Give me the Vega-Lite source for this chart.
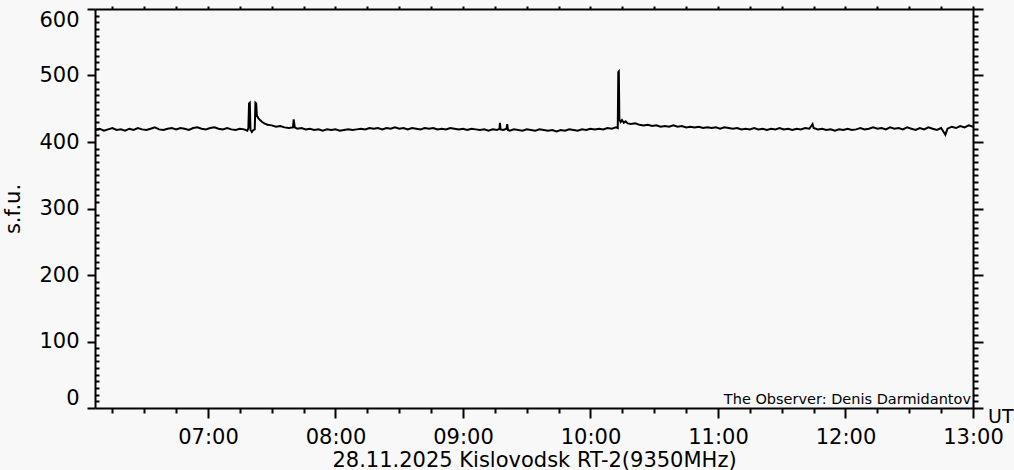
{
  "$schema": "https://vega.github.io/schema/vega-lite/v6.json",
  "width": 1014,
  "height": 470,
  "autosize": {"type": "fit", "contains": "padding"},
  "padding": {"left": 2, "top": 5, "right": 0, "bottom": 0},
  "background": "#f8f8f8",
  "view": {"stroke": null},
  "config": {
    "axis": {
      "domainColor": "#000000", "domainWidth": 2, "tickColor": "#000000", "tickWidth": 2,
      "labelColor": "#000000", "labelFont": "DejaVu Sans", "labelFontSize": 21,
      "titleColor": "#000000", "titleFont": "DejaVu Sans", "titleFontSize": 21, "titleFontWeight": "normal",
      "grid": false, "labelOverlap": false
    }
  },
  "data": {"values": [
    {"m":366.83,"v":418},{"m":369,"v":420},{"m":371,"v":417},{"m":373,"v":419},{"m":375,"v":421},{"m":377,"v":418},{"m":379,"v":419},{"m":381,"v":417},
    {"m":383,"v":420},{"m":385,"v":418},{"m":387,"v":421},{"m":389,"v":419},{"m":391,"v":418},{"m":393,"v":420},{"m":395,"v":422},{"m":397,"v":419},
    {"m":399,"v":418},{"m":401,"v":420},{"m":403,"v":421},{"m":405,"v":419},{"m":407,"v":421},{"m":409,"v":420},{"m":411,"v":418},{"m":413,"v":421},
    {"m":415,"v":422},{"m":417,"v":420},{"m":419,"v":419},{"m":421,"v":421},{"m":423,"v":422},{"m":425,"v":420},{"m":427,"v":419},{"m":429,"v":421},
    {"m":431,"v":419},{"m":433,"v":418},{"m":435,"v":420},{"m":437,"v":419},{"m":438.5,"v":417},{"m":439,"v":421},{"m":439.33,"v":458},{"m":439.67,"v":459},
    {"m":440,"v":418},{"m":440.67,"v":415},{"m":441.33,"v":418},{"m":442,"v":419},{"m":442.33,"v":459},{"m":442.67,"v":458},{"m":443,"v":440},{"m":443.67,"v":436},
    {"m":444.5,"v":433},{"m":445.5,"v":430},{"m":446.5,"v":428},{"m":448,"v":426},{"m":450,"v":425},{"m":452,"v":423},{"m":454,"v":424},{"m":456,"v":422},
    {"m":458,"v":421},{"m":460,"v":422},{"m":460.33,"v":434},{"m":460.83,"v":422},{"m":462,"v":420},{"m":464,"v":421},{"m":466,"v":419},{"m":468,"v":420},
    {"m":470,"v":418},{"m":472,"v":419},{"m":474,"v":417},{"m":476,"v":419},{"m":478,"v":418},{"m":480,"v":419},{"m":482,"v":417},{"m":484,"v":418},
    {"m":486,"v":419},{"m":488,"v":418},{"m":490,"v":419},{"m":492,"v":420},{"m":494,"v":419},{"m":496,"v":421},{"m":498,"v":420},{"m":500,"v":421},
    {"m":502,"v":419},{"m":504,"v":421},{"m":506,"v":420},{"m":508,"v":422},{"m":510,"v":420},{"m":512,"v":421},{"m":514,"v":419},{"m":516,"v":421},
    {"m":518,"v":420},{"m":520,"v":419},{"m":522,"v":421},{"m":524,"v":420},{"m":526,"v":421},{"m":528,"v":419},{"m":530,"v":420},{"m":532,"v":419},
    {"m":534,"v":421},{"m":536,"v":420},{"m":538,"v":419},{"m":540,"v":420},{"m":542,"v":418},{"m":544,"v":420},{"m":546,"v":419},{"m":548,"v":418},
    {"m":550,"v":419},{"m":552,"v":417},{"m":554,"v":419},{"m":556,"v":418},{"m":557.17,"v":420},{"m":557.4,"v":429},{"m":557.67,"v":419},{"m":559,"v":418},
    {"m":560.5,"v":420},{"m":560.8,"v":427},{"m":561.17,"v":418},{"m":562,"v":417},{"m":564,"v":419},{"m":566,"v":418},{"m":568,"v":417},{"m":570,"v":419},
    {"m":572,"v":418},{"m":574,"v":417},{"m":576,"v":419},{"m":578,"v":418},{"m":580,"v":417},{"m":582,"v":418},{"m":584,"v":416},{"m":586,"v":418},
    {"m":588,"v":417},{"m":590,"v":419},{"m":592,"v":418},{"m":594,"v":417},{"m":596,"v":419},{"m":598,"v":418},{"m":600,"v":420},{"m":602,"v":419},
    {"m":604,"v":420},{"m":606,"v":419},{"m":608,"v":421},{"m":610,"v":420},{"m":612,"v":422},{"m":612.83,"v":421},{"m":613.08,"v":505},{"m":613.33,"v":506},
    {"m":613.58,"v":434},{"m":614.17,"v":430},{"m":614.83,"v":433},{"m":615.67,"v":429},{"m":616.5,"v":431},{"m":617.5,"v":428},{"m":619,"v":427},{"m":621,"v":428},
    {"m":623,"v":426},{"m":625,"v":425},{"m":627,"v":426},{"m":629,"v":424},{"m":631,"v":425},{"m":633,"v":423},{"m":635,"v":424},{"m":637,"v":423},
    {"m":639,"v":425},{"m":641,"v":423},{"m":643,"v":424},{"m":645,"v":422},{"m":647,"v":423},{"m":649,"v":422},{"m":651,"v":423},{"m":653,"v":421},
    {"m":655,"v":422},{"m":657,"v":421},{"m":659,"v":422},{"m":661,"v":420},{"m":663,"v":422},{"m":665,"v":421},{"m":667,"v":420},{"m":669,"v":421},
    {"m":671,"v":419},{"m":673,"v":420},{"m":675,"v":419},{"m":677,"v":421},{"m":679,"v":419},{"m":681,"v":420},{"m":683,"v":418},{"m":685,"v":420},
    {"m":687,"v":419},{"m":689,"v":421},{"m":691,"v":419},{"m":693,"v":420},{"m":695,"v":418},{"m":697,"v":420},{"m":699,"v":419},{"m":701,"v":421},
    {"m":703,"v":420},{"m":704.5,"v":427},{"m":705,"v":421},{"m":707,"v":419},{"m":709,"v":420},{"m":711,"v":418},{"m":713,"v":419},{"m":715,"v":417},
    {"m":717,"v":419},{"m":719,"v":418},{"m":721,"v":420},{"m":723,"v":418},{"m":725,"v":419},{"m":727,"v":421},{"m":729,"v":419},{"m":731,"v":420},
    {"m":733,"v":422},{"m":735,"v":420},{"m":737,"v":421},{"m":739,"v":419},{"m":741,"v":422},{"m":743,"v":420},{"m":745,"v":421},{"m":747,"v":419},
    {"m":749,"v":422},{"m":751,"v":420},{"m":753,"v":418},{"m":755,"v":421},{"m":757,"v":419},{"m":759,"v":422},{"m":761,"v":420},{"m":763,"v":418},
    {"m":765,"v":421},{"m":767,"v":411},{"m":768,"v":420},{"m":770,"v":423},{"m":772,"v":421},{"m":774,"v":424},{"m":776,"v":422},{"m":778,"v":425},
    {"m":780,"v":423}
  ]},
  "resolve": {"axis": {"x": "independent", "y": "independent"}},
  "layer": [
    {
      "mark": {"type": "line", "color": "#000000", "strokeWidth": 2},
      "encoding": {
        "x": {
          "field": "m", "type": "quantitative",
          "scale": {"domain": [366.83, 780], "nice": false, "zero": false},
          "axis": {
            "orient": "bottom",
            "title": "28.11.2025 Kislovodsk RT-2(9350MHz)",
            "values": [375,390,405,420,435,450,465,480,495,510,525,540,555,570,585,600,615,630,645,660,675,690,705,720,735,750,765,780],
            "labelExpr": "datum.value % 60 === 0 ? ((datum.value < 600 ? '0' : '') + floor(datum.value / 60) + ':00') : ''",
            "labelFlush": false,
            "tickSize": {"condition": {"test": "datum.value % 60 === 0", "value": 10}, "value": 5},
            "labelPadding": 8,
            "titlePadding": 2
          }
        },
        "y": {
          "field": "v", "type": "quantitative",
          "scale": {"domain": [0, 600], "nice": false},
          "axis": {
            "orient": "left",
            "title": "s.f.u.",
            "values": [0,10,20,30,40,50,60,70,80,90,100,110,120,130,140,150,160,170,180,190,200,210,220,230,240,250,260,270,280,290,300,310,320,330,340,350,360,370,380,390,400,410,420,430,440,450,460,470,480,490,500,510,520,530,540,550,560,570,580,590,600],
            "labelExpr": "datum.value % 100 === 0 ? datum.label : ''",
            "labelFlush": true,
            "tickSize": {"condition": {"test": "datum.value % 100 === 0", "value": 8}, "value": -4},
            "labelPadding": 8,
            "titlePadding": 15
          }
        }
      }
    },
    {
      "data": {"values": [{"m": 780, "v": 0, "label": "The Observer: Denis Darmidantov"}]},
      "mark": {"type": "text", "align": "right", "baseline": "alphabetic", "dx": -2, "dy": -4, "font": "DejaVu Sans", "fontSize": 14.5, "color": "#000000"},
      "encoding": {
        "x": {
          "field": "m", "type": "quantitative",
          "axis": {
            "orient": "top", "title": null, "labels": false,
            "values": [375,390,405,420,435,450,465,480,495,510,525,540,555,570,585,600,615,630,645,660,675,690,705,720,735,750,765,780],
            "tickSize": 3
          }
        },
        "y": {
          "field": "v", "type": "quantitative",
          "axis": {
            "orient": "right", "title": null, "labels": false,
            "values": [0,10,20,30,40,50,60,70,80,90,100,110,120,130,140,150,160,170,180,190,200,210,220,230,240,250,260,270,280,290,300,310,320,330,340,350,360,370,380,390,400,410,420,430,440,450,460,470,480,490,500,510,520,530,540,550,560,570,580,590,600],
            "tickSize": {"condition": {"test": "datum.value % 100 === 0", "value": 10}, "value": 5}
          }
        },
        "text": {"field": "label"}
      }
    },
    {
      "data": {"values": [{"m": 780, "v": 0, "label": "UT"}]},
      "mark": {"type": "text", "align": "left", "baseline": "middle", "dx": 15, "dy": 9, "font": "DejaVu Sans", "fontSize": 19, "color": "#000000"},
      "encoding": {
        "x": {"field": "m", "type": "quantitative", "axis": null},
        "y": {"field": "v", "type": "quantitative", "axis": null},
        "text": {"field": "label"}
      }
    }
  ]
}
